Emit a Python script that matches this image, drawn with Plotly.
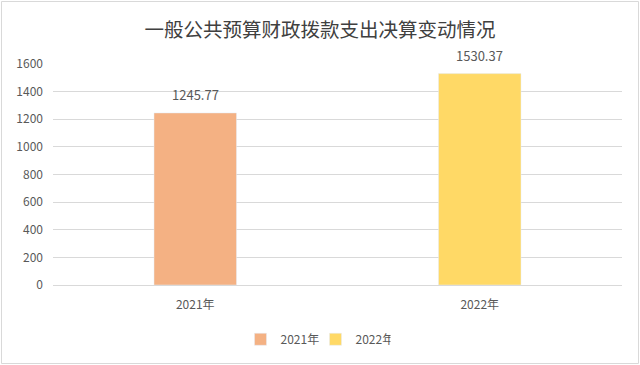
import plotly.graph_objects as go

categories = ["2021年", "2022年"]
values = [1245.77, 1530.37]
labels = ["1245.77", "1530.37"]
colors = ["#F4B183", "#FFD966"]
y_ticks = [0, 200, 400, 600, 800, 1000, 1200, 1400, 1600]
title = "一般公共预算财政拨款支出决算变动情况"

W, H = 640, 365
L, R, T, B = 53, 18, 64, 80
pw, ph = W - L - R, H - T - B

fig = go.Figure()
for c, v, col in zip(categories, values, colors):
    fig.add_trace(go.Bar(
        x=[c], y=[v], name=c, marker_color=col, width=0.29,
    ))
for c, v, t in zip(categories, values, labels):
    fig.add_annotation(x=c, y=v, text=t, showarrow=False, yanchor="bottom",
                       yshift=7, font=dict(size=13, color="#595959"))

fig.update_layout(
    width=W, height=H,
    margin=dict(l=L, r=R, t=T, b=B, autoexpand=False),
    paper_bgcolor="white", plot_bgcolor="white",
    barmode="overlay",
    font=dict(family="Noto Sans CJK SC, Noto Sans, sans-serif", color="#595959", size=12),
    title=dict(text=title, x=0.5, xanchor="center", y=1 - 30 / H, yanchor="middle",
               font=dict(family="Noto Sans CJK SC", size=19.5, color="#404040")),
    showlegend=True,
    legend=dict(orientation="h", x=0.5 - 22 / pw, xanchor="center", y=-0.18, yanchor="top",
                font=dict(size=12, color="#595959"), itemwidth=30,
                entrywidth=30, entrywidthmode="pixels"),
    xaxis=dict(showgrid=False, showline=True, linecolor="#d9d9d9", ticks="",
               automargin=False, ticklabelstandoff=9,
               tickfont=dict(size=12, color="#595959")),
    yaxis=dict(range=[0, 1600], tickvals=y_ticks, showgrid=True, gridcolor="#d9d9d9",
               zeroline=False, showline=False, ticks="", automargin=False,
               ticklabelstandoff=9,
               tickfont=dict(size=12, color="#595959")),
)
fig.add_shape(type="rect", xref="paper", yref="paper",
              x0=-(L - 1.5) / pw, x1=1 + (R - 1.5) / pw,
              y0=-(B - 1.5) / ph, y1=1 + (T - 1.5) / ph,
              line=dict(color="#d9d9d9", width=1), fillcolor="rgba(0,0,0,0)")

fig.write_html("out.html", config={"displayModeBar": False},
               post_script="document.body.style.margin='0';")
